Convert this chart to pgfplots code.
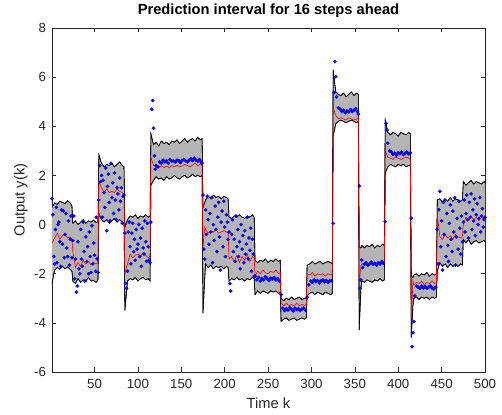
\documentclass[border=0pt]{standalone}
\usepackage{pgfplots}
\pgfplotsset{compat=1.18}
\usepackage{pgfplotstable}
\usepgfplotslibrary{fillbetween}
\usetikzlibrary{calc}
\usepackage{fontspec}
\setmainfont{Liberation Sans}
\definecolor{bandgray}{rgb}{0.71,0.71,0.71}
\definecolor{axgray}{rgb}{0.15,0.15,0.15}

\pgfplotstableread{
k U L R
1 0.70 -2.40 -0.75
4 0.88 -1.85 -0.55
7 0.82 -1.75 -0.35
10 0.95 -1.82 -0.60
13 0.90 -1.70 -0.45
16 0.85 -1.80 -0.40
19 0.97 -1.72 -0.55
22 0.88 -1.83 -0.50
24 0.75 -1.90 -0.60
25 0.05 -2.30 -1.10
28 0.15 -2.40 -1.75
31 0.00 -2.20 -1.55
34 0.10 -2.35 -1.70
37 0.20 -2.25 -1.45
40 0.05 -2.30 -1.60
43 0.15 -2.15 -1.50
46 0.10 -2.30 -1.65
49 0.18 -2.28 -1.55
52 0.08 -2.35 -1.60
54 0.12 -2.25 -1.55
55 2.85 0.45 1.75
58 2.50 0.20 1.50
61 2.35 0.10 1.30
64 2.45 0.20 1.45
67 2.40 0.05 1.30
70 2.50 0.15 1.35
73 2.35 0.25 1.30
76 2.45 0.10 1.45
79 2.55 0.20 1.35
82 2.40 0.10 1.30
84 2.35 0.05 1.20
85 -0.10 -3.50 -2.00
88 0.20 -2.30 -1.60
91 0.35 -2.20 -1.20
94 0.30 -2.25 -1.35
97 0.40 -2.15 -1.25
100 0.25 -2.30 -1.20
103 0.35 -2.20 -1.30
106 0.30 -2.15 -1.15
109 0.40 -2.25 -1.25
112 0.30 -2.20 -1.35
114 0.35 -2.30 -1.30
115 3.70 1.60 2.75
118 3.25 1.80 2.40
121 3.35 1.95 2.35
124 3.20 1.85 2.30
127 3.40 1.90 2.40
130 3.30 1.80 2.32
133 3.35 1.95 2.38
136 3.25 1.85 2.30
139 3.40 1.90 2.40
142 3.35 2.00 2.35
145 3.45 1.90 2.42
148 3.30 1.85 2.35
151 3.40 1.95 2.38
154 3.50 2.00 2.45
157 3.35 1.90 2.40
160 3.45 1.95 2.35
163 3.50 2.05 2.42
166 3.40 1.95 2.50
169 3.55 2.00 2.40
172 3.45 1.95 2.45
174 3.50 2.00 2.40
175 0.70 -3.60 -1.00
177 0.90 -2.20 -0.10
178 1.00 -1.60 -0.20
181 1.15 -1.75 -0.35
184 1.05 -1.65 -0.25
187 1.20 -1.80 -0.30
190 1.10 -1.70 -0.20
193 1.15 -1.75 -0.35
196 1.05 -1.70 -0.30
199 1.15 -1.80 -0.25
202 1.10 -1.70 -0.30
204 1.05 -1.75 -0.35
205 0.30 -2.30 -1.40
208 0.25 -2.20 -1.30
211 0.35 -2.25 -1.50
214 0.30 -2.15 -1.25
217 0.40 -2.25 -1.55
220 0.30 -2.20 -1.30
223 0.25 -2.30 -1.45
226 0.35 -2.20 -1.20
229 0.30 -2.25 -1.50
232 0.40 -2.15 -1.30
234 0.30 -2.20 -1.35
235 -1.45 -2.85 -2.10
238 -1.55 -2.70 -1.90
241 -1.45 -2.80 -2.00
244 -1.50 -2.70 -1.85
247 -1.40 -2.75 -1.95
250 -1.55 -2.80 -2.00
253 -1.45 -2.70 -1.90
256 -1.50 -2.75 -1.95
259 -1.40 -2.70 -1.85
262 -1.50 -2.80 -2.00
264 -1.45 -2.75 -1.95
265 -3.00 -3.95 -3.20
268 -3.10 -3.85 -3.30
271 -3.00 -3.80 -3.20
274 -3.05 -3.90 -3.30
277 -2.95 -3.85 -3.25
280 -3.05 -3.80 -3.30
283 -3.00 -3.90 -3.20
286 -2.95 -3.85 -3.30
289 -3.05 -3.80 -3.25
292 -3.00 -3.85 -3.30
294 -3.00 -3.80 -3.25
295 -1.65 -2.90 -2.00
298 -1.60 -2.80 -2.05
301 -1.50 -2.75 -1.95
304 -1.60 -2.85 -2.10
307 -1.55 -2.75 -2.00
310 -1.50 -2.80 -2.05
313 -1.60 -2.85 -2.00
316 -1.55 -2.75 -2.10
319 -1.50 -2.80 -2.00
322 -1.55 -2.85 -2.05
324 -1.60 -2.80 -2.00
325 6.30 3.60 4.75
328 5.40 4.10 4.45
331 5.30 4.20 4.30
334 5.25 4.25 4.35
337 5.35 4.20 4.30
340 5.20 4.15 4.25
343 5.30 4.20 4.35
346 5.40 4.25 4.30
349 5.25 4.20 4.25
352 5.35 4.15 4.30
354 5.30 4.20 4.35
355 -0.90 -4.30 -2.40
357 -0.95 -2.60 -1.70
358 -0.85 -2.30 -1.60
361 -0.95 -2.35 -1.55
364 -0.85 -2.25 -1.65
367 -0.90 -2.30 -1.60
370 -0.80 -2.35 -1.55
373 -0.95 -2.25 -1.60
376 -0.85 -2.30 -1.65
379 -0.90 -2.20 -1.55
382 -0.80 -2.30 -1.60
384 -0.85 -2.25 -1.55
385 4.25 2.10 3.00
388 3.75 2.35 2.75
391 3.65 2.45 2.70
394 3.75 2.40 2.65
397 3.70 2.35 2.75
400 3.60 2.45 2.70
403 3.75 2.40 2.65
406 3.70 2.45 2.70
409 3.65 2.35 2.75
412 3.75 2.40 2.70
414 3.70 2.40 2.65
415 -2.10 -4.60 -3.90
417 -2.15 -3.30 -2.30
418 -2.05 -3.00 -2.45
421 -2.00 -2.95 -2.35
424 -2.10 -3.05 -2.40
427 -2.00 -2.95 -2.30
430 -2.05 -3.00 -2.45
433 -1.95 -2.95 -2.35
436 -2.10 -3.05 -2.40
439 -2.00 -2.95 -2.30
442 -2.05 -3.00 -2.40
444 -2.00 -2.95 -2.35
445 1.00 -1.90 0.40
448 1.05 -1.55 -0.50
451 0.90 -1.70 -0.60
454 1.00 -1.60 -0.40
457 0.95 -1.75 -0.55
460 1.10 -1.60 -0.45
463 0.95 -1.70 -0.60
466 1.05 -1.65 -0.40
469 1.00 -1.70 -0.50
472 0.95 -1.60 -0.55
474 1.00 -1.65 -0.45
475 1.75 -0.60 0.00
478 1.60 -0.75 0.30
481 1.70 -0.60 0.15
484 1.80 -0.80 0.35
487 1.65 -0.70 0.20
490 1.75 -0.65 0.30
493 1.70 -0.75 0.15
496 1.65 -0.70 0.30
499 1.75 -0.65 0.20
500 1.70 -0.70 0.25
}\band

\pgfplotstableread{
k y
1 1.05
2 0.40
3 -1.30
4 -1.60
5 -0.20
6 0.70
7 -1.55
8 0.00
9 0.10
10 -0.70
11 -1.70
12 0.60
13 -0.80
14 0.55
15 -1.35
16 -0.40
17 0.45
18 -0.95
19 -1.30
20 0.15
21 -1.65
22 -0.60
23 0.35
24 -1.35
25 -0.65
26 0.35
27 -2.20
28 -1.40
29 -2.75
30 -2.50
31 -0.70
32 -1.80
33 -2.00
34 -0.20
35 -1.40
36 -1.70
37 0.10
38 -1.10
39 -2.30
40 -0.50
41 -1.50
42 -0.90
43 -2.00
44 -0.30
45 -1.30
46 -1.95
47 -0.05
48 -1.60
49 -0.75
50 -1.25
51 -1.90
52 0.30
53 -1.40
54 -1.95
55 1.00
56 2.40
57 1.75
58 2.00
59 0.30
60 1.80
61 1.30
62 0.70
63 2.30
64 -0.25
65 1.55
66 2.05
67 0.90
68 0.15
69 2.50
70 1.10
71 1.70
72 0.45
73 2.10
74 1.00
75 0.20
76 1.50
77 1.25
78 0.60
79 1.90
80 0.95
81 1.50
82 0.05
83 1.15
84 1.20
85 -0.35
86 -2.40
87 -2.60
88 -1.90
89 -0.30
90 0.10
91 -0.90
92 -1.60
93 -0.35
94 0.05
95 -1.10
96 -0.60
97 -1.45
98 -0.20
99 -1.00
100 -0.80
101 0.00
102 -1.30
103 -0.55
104 -1.70
105 -0.15
106 -0.95
107 -1.20
108 0.15
109 -0.70
110 -1.50
111 0.05
112 -0.90
113 -1.45
114 -1.55
115 0.10
116 4.69
117 5.05
118 3.92
119 2.80
120 2.25
121 2.40
123 2.35
125 2.55
127 2.50
129 2.62
131 2.55
133 2.60
135 2.50
137 2.65
139 2.58
141 2.60
143 2.55
145 2.62
147 2.60
149 2.52
151 2.60
153 2.65
155 2.58
157 2.55
159 2.62
161 2.68
163 2.60
165 2.70
167 2.62
169 2.58
171 2.65
173 2.55
174 2.50
175 1.20
176 -1.00
177 -1.40
178 0.60
179 -0.40
180 1.15
181 0.20
182 -0.80
183 0.45
184 -0.30
185 1.10
186 -1.55
187 0.00
188 -0.65
189 0.75
190 -0.20
191 -1.10
192 0.30
193 0.90
194 -0.50
195 -1.85
196 0.10
197 0.55
198 -0.90
199 0.95
200 -0.10
201 -1.30
202 0.40
203 0.10
204 -0.60
205 -0.30
206 -2.40
207 -2.70
208 -0.40
209 0.20
210 -1.10
211 -0.60
212 -1.50
213 0.35
214 -0.90
215 -0.20
216 -1.30
217 -0.70
218 -1.80
219 0.00
220 -1.00
221 -0.45
222 -1.55
223 -0.25
224 -1.20
225 -0.80
226 0.30
227 -1.40
228 -0.55
229 -1.05
230 -0.15
231 -1.90
232 -0.60
233 -1.20
234 -2.10
235 -2.10
237 -2.25
239 -2.15
241 -2.30
243 -2.20
245 -2.25
247 -2.12
249 -2.20
251 -2.28
253 -2.18
255 -2.22
257 -2.15
259 -2.25
261 -2.20
263 -2.30
265 -2.85
267 -3.40
269 -3.50
271 -3.42
273 -3.48
275 -3.38
277 -3.45
279 -3.52
281 -3.40
283 -3.46
285 -3.42
287 -3.50
289 -3.44
291 -3.40
293 -3.48
295 -2.95
297 -2.45
299 -2.30
301 -2.35
303 -2.25
305 -2.32
307 -2.28
309 -2.38
311 -2.30
313 -2.25
315 -2.33
317 -2.27
319 -2.35
321 -2.30
323 -2.28
325 0.05
326 5.37
327 6.63
328 6.02
329 5.20
331 4.75
333 4.70
335 4.60
337 4.65
339 4.55
341 4.62
343 4.58
345 4.68
347 4.60
349 4.65
351 4.72
353 4.60
354 4.50
355 1.57
356 -2.59
357 -2.25
358 -1.44
359 -1.75
361 -1.62
363 -1.55
365 -1.65
367 -1.60
369 -1.52
371 -1.62
373 -1.58
375 -1.65
377 -1.55
379 -1.60
381 -1.50
383 -1.58
385 0.12
386 4.12
387 3.85
388 3.31
390 3.00
392 2.95
394 2.85
396 2.90
398 2.82
400 2.92
402 2.88
404 2.95
406 2.85
408 2.90
410 2.95
412 2.88
414 2.92
415 0.26
416 -4.97
417 -4.40
418 -3.95
419 -2.90
421 -2.50
423 -2.55
425 -2.60
427 -2.50
429 -2.58
431 -2.52
433 -2.60
435 -2.55
437 -2.50
439 -2.58
441 -2.62
443 -2.55
445 -0.20
446 -1.60
447 0.60
448 1.35
449 -0.90
450 0.15
451 -1.85
452 0.90
453 -0.40
454 1.00
455 -1.30
456 0.45
457 -0.85
458 -1.50
459 0.05
460 0.80
461 -0.60
462 -1.10
463 0.55
464 -0.30
465 1.10
466 -1.65
467 -0.50
468 0.25
469 -1.00
470 0.95
471 -0.15
472 -1.20
473 0.35
474 -0.70
475 0.10
476 1.00
477 -0.30
478 0.45
479 1.20
480 0.20
481 -0.55
482 0.90
483 0.30
484 1.25
485 -0.20
486 0.60
487 0.15
488 1.05
489 -0.45
490 0.40
491 0.85
492 0.00
493 0.25
494 1.10
495 -0.30
496 0.35
497 0.65
498 -0.10
499 0.20
500 0.30
}\meas

\begin{document}
\begin{tikzpicture}
\begin{axis}[
  name=ax,
  scale only axis,
  width=433pt, height=344pt,
  xmin=1, xmax=500, ymin=-6, ymax=8,
  xtick={50,100,...,500},
  ytick={-6,-4,...,8},
  tick align=inside,
  major tick length=4.5pt,
  axis line style={axgray, line width=0.6pt},
  every tick/.style={axgray, line width=0.6pt},
  tick label style={font=\fontsize{13.3}{15}\selectfont, text=axgray},
  yticklabel style={xshift=-2.5pt},
  xticklabel style={yshift=-4pt},
  /pgf/number format/assume math mode=true,
  xlabel={Time k},
  ylabel={Output y(k)},
  label style={font=\fontsize{14.7}{17}\selectfont, text=axgray},
  xlabel style={at={(axis description cs:0.5,-0.091)}, anchor=center},
  ylabel style={at={(axis description cs:-0.072,0.5)}, anchor=center},
  title={\textbf{Prediction interval for 16 steps ahead}},
  title style={font=\fontsize{14.7}{17}\selectfont, at={(axis description cs:0.5,1.033)}, anchor=center},
  clip=true,
]
\addplot[name path=up, black, line width=0.6pt] table[x=k, y=U] {\band};
\addplot[name path=lo, black, line width=0.6pt] table[x=k, y=L] {\band};
\addplot[bandgray] fill between[of=up and lo];
\addplot[black, line width=0.6pt] table[x=k, y=U] {\band};
\addplot[black, line width=0.6pt] table[x=k, y=L] {\band};
\addplot[red, line width=0.6pt] table[x=k, y=R] {\band};
\addplot[only marks, mark=*, mark size=1.6pt, color=blue, mark options={draw=blue, fill=blue}] table[x=k, y=y] {\meas};
\end{axis}
\pgfresetboundingbox
\path ($(ax.south west)+(-52pt,-43pt)$) rectangle ($(ax.north east)+(17pt,28pt)$);
\end{tikzpicture}
\end{document}
